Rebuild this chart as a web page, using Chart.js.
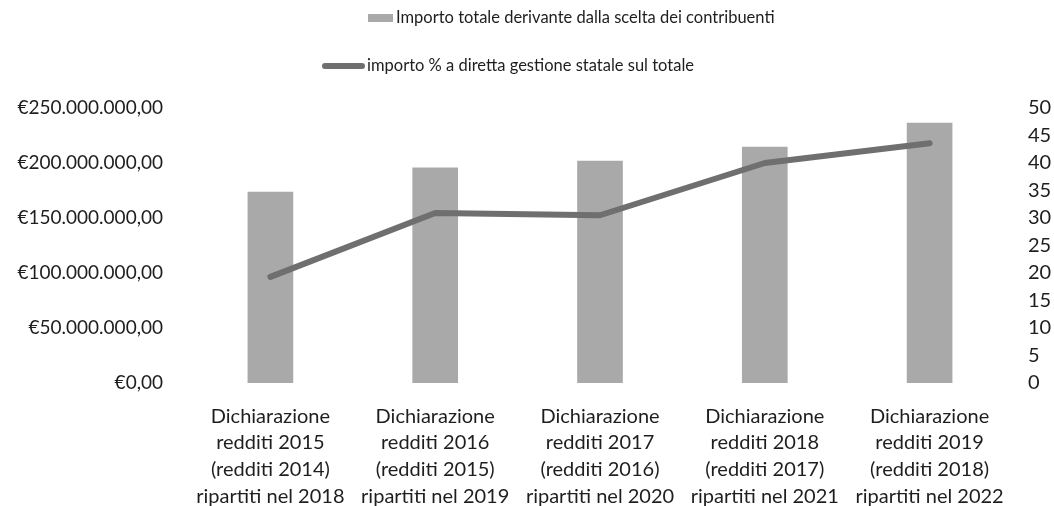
<!DOCTYPE html>
<html>
<head>
<meta charset="utf-8">
<script src="https://cdn.jsdelivr.net/npm/chart.js@4/dist/chart.umd.min.js"></script>
<style>
html,body{margin:0;padding:0;background:#fff;}
#wrap{position:relative;width:1054px;height:506px;}
</style>
</head>
<body>
<div id="wrap"><canvas id="c" width="1054" height="506"></canvas></div>
<script>
const categories = [
  ["Dichiarazione","redditi 2015","(redditi 2014)","ripartiti nel 2018"],
  ["Dichiarazione","redditi 2016","(redditi 2015)","ripartiti nel 2019"],
  ["Dichiarazione","redditi 2017","(redditi 2016)","ripartiti nel 2020"],
  ["Dichiarazione","redditi 2018","(redditi 2017)","ripartiti nel 2021"],
  ["Dichiarazione","redditi 2019","(redditi 2018)","ripartiti nel 2022"]
];
const importoTotale = [173600000, 195500000, 201800000, 214500000, 236400000];
const percentualeStatale = [19.3, 30.9, 30.5, 40.0, 43.6];
const leftTicks = [0, 50000000, 100000000, 150000000, 200000000, 250000000];
const rightTicks = [0,5,10,15,20,25,30,35,40,45,50];
const seriesLabels = ["Importo totale derivante dalla scelta dei contribuenti", "importo % a diretta gestione statale sul totale"];

const FONT = "Lato, 'Open Sans', sans-serif";
const TXT = "#1e1e1e";
const BAR = "#a9a9a9";
const LINE = "#6f6f6f";

function euro(v){
  const s = Math.round(v).toString().replace(/\B(?=(\d{3})+(?!\d))/g, ".");
  return "\u20ac" + s + ",00";
}

const legendPlugin = {
  id: 'customLegend',
  afterDraw(chart){
    const ctx = chart.ctx;
    const ds = chart.data.datasets;
    const barDs = ds.find(d => d.type === 'bar');
    const lineDs = ds.find(d => d.type === 'line');
    ctx.save();
    ctx.font = "16.5px " + FONT;
    ctx.textBaseline = "middle";
    ctx.textAlign = "left";
    // row 1: bar swatch
    ctx.fillStyle = BAR;
    ctx.fillRect(368, 14, 25, 8);
    ctx.fillStyle = TXT;
    ctx.fillText(barDs.label, 396, 18);
    // row 2: line swatch
    ctx.strokeStyle = LINE;
    ctx.lineWidth = 6;
    ctx.lineCap = "round";
    ctx.beginPath();
    ctx.moveTo(325, 66);
    ctx.lineTo(362, 66);
    ctx.stroke();
    ctx.fillText(lineDs.label, 367, 66);
    ctx.restore();
  }
};

new Chart(document.getElementById('c'), {
  data: {
    labels: categories,
    datasets: [
      {
        type: 'line',
        label: seriesLabels[1],
        data: percentualeStatale,
        yAxisID: 'y1',
        borderColor: LINE,
        borderWidth: 6,
        borderCapStyle: 'round',
        borderJoinStyle: 'round',
        pointRadius: 0,
        tension: 0,
        order: 0
      },
      {
        type: 'bar',
        label: seriesLabels[0],
        data: importoTotale,
        yAxisID: 'y',
        backgroundColor: BAR,
        borderWidth: 0,
        barThickness: 45,
        order: 1
      }
    ]
  },
  options: {
    responsive: false,
    animation: false,
    devicePixelRatio: 1,
    layout: { padding: { top: 108, left: 0, right: 0, bottom: 0 } },
    plugins: { legend: { display: false }, tooltip: { enabled: false } },
    scales: {
      x: {
        grid: { display: false, drawTicks: false },
        border: { display: false },
        ticks: { color: TXT, font: { family: FONT, size: 20, lineHeight: 1.33 }, padding: 20, maxRotation: 0, autoSkip: false },
        afterFit(s){ s.height = 123; }
      },
      y: {
        position: 'left',
        min: 0, max: 250000000,
        grid: { display: false, drawTicks: false },
        border: { display: false },
        afterBuildTicks(s){ s.ticks = leftTicks.map(v => ({ value: v })); },
        ticks: { color: TXT, font: { family: FONT, size: 19 }, padding: 25, callback: v => euro(v) },
        afterFit(s){ s.width = 188; }
      },
      y1: {
        position: 'right',
        min: 0, max: 50,
        grid: { display: false, drawTicks: false },
        border: { display: false },
        afterBuildTicks(s){ s.ticks = rightTicks.map(v => ({ value: v })); },
        ticks: { color: TXT, font: { family: FONT, size: 20 }, padding: 16, callback: v => String(v) },
        afterFit(s){ s.width = 42; }
      }
    }
  },
  plugins: [legendPlugin]
});
</script>
</body>
</html>
